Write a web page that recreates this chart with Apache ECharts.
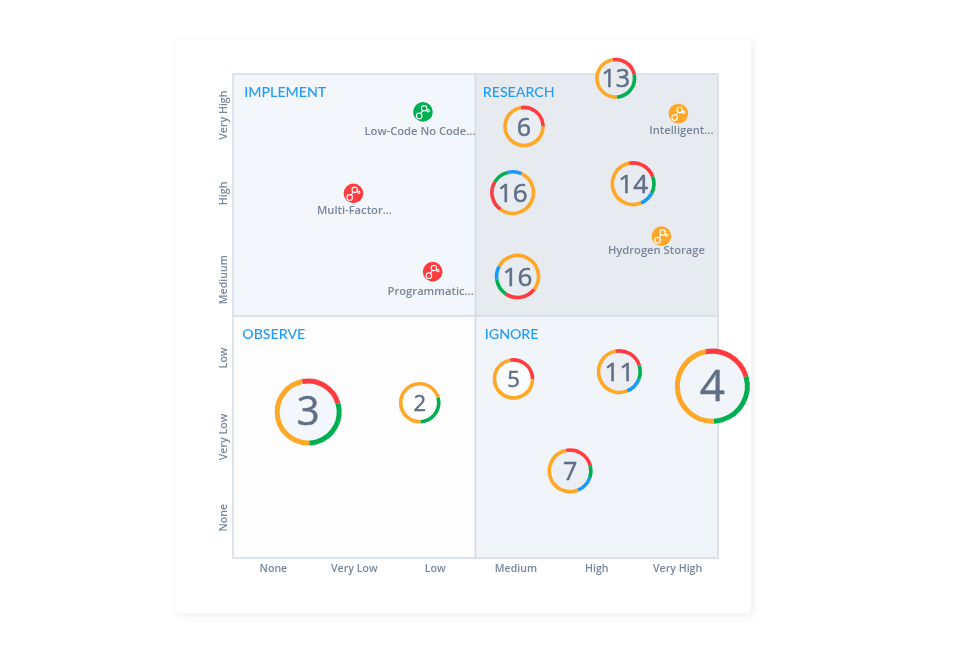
<!DOCTYPE html>
<html>
<head>
<meta charset="utf-8">
<style>
html, body { margin: 0; padding: 0; background: #fff; }
#chart { width: 980px; height: 651px; }
</style>
<script src="https://cdn.jsdelivr.net/npm/echarts@6/dist/echarts.min.js"></script>
</head>
<body>
<div id="chart"></div>
<script>
// axis categories
const xLabels = ['None', 'Very Low', 'Low', 'Medium', 'High', 'Very High']
const yLabels = ['None', 'Very Low', 'Low', 'Mediuum', 'High', 'Very High']
const yTicks = [0.5, 1.5, 2.48, 3.45, 4.52, 5.49]

// quadrants, in axis units
const quadrantNames = ['IMPLEMENT', 'RESEARCH', 'OBSERVE', 'IGNORE']
const quadrantX = [[0, 3], [3, 6], [0, 3], [3, 6]]
const quadrantY = [[3, 6], [3, 6], [0, 3], [0, 3]]

// ring bubbles: position on the 0-6 scale, count, and arc lengths in degrees
const bubbleX = [4.735, 3.6, 3.46, 4.95, 3.52, 3.47, 4.78, 5.93, 4.17, 0.93, 2.31]
const bubbleY = [5.947, 5.35, 4.53, 4.64, 3.49, 2.22, 2.31, 2.13, 1.08, 1.81, 1.925]
const bubbleCount = [13, 6, 16, 14, 16, 5, 11, 4, 7, 3, 2]
const ringStart = [-9, -10, 216, -11, 128, -10, -11, -11, -11, -11, 74]
const redArc = [87, 100, 85, 81, 86, 100, 84, 85, 86, 85, 0]
const greenArc = [99, 0, 45, 47, 47, 0, 39, 104, 35, 104, 104]
const blueArc = [0, 0, 39, 41, 38, 0, 46, 0, 47, 0, 0]
const orangeArc = [174, 260, 191, 191, 189, 260, 191, 171, 192, 171, 256]

// single technologies
const techNames = ['Low-Code No Code...', 'Multi-Factor...', 'Programmatic...', 'Intelligent...', 'Hydrogen Storage']
const techX = [2.35, 1.49, 2.47, 5.51, 5.3]
const techY = [5.53, 4.52, 3.55, 5.51, 3.99]
const techGroup = [1, 0, 0, 3, 3]

// styles
const bubbleRadius = [18.8, 19, 20.8, 20.8, 21, 19, 20.8, 35, 20.8, 31, 19]
const bubbleFont = [25, 25, 26, 26, 26, 22, 26, 44, 25, 40, 22]
const bubbleFill = ['#e8ecf1', '#eaeef2', '#e8ecf1', '#e8ecf1', '#e8ecf1', '#fbfcfd', '#ebeff4', '#f1f5f9', '#ebeff4', '#f3f6fa', '#ffffff']
const techLabelShift = [-3, 1, -2, 3, -5]
const techLabelDrop = [20, 17, 20, 17, 15]
const ringColors = ['#ff3b3f', '#00b050', '#1a9bfc', '#ffa726']
const quadrantColors = ['#f3f6fa', '#e7ebf0', '#fdfdfe', '#f1f5f9']
const quadrantLabelOffset = [[7, 7], [3, 7], [5, 7], [5, 7]]
const textColor = '#5f6f86'
const labelColor = '#76869c'
const fontFamily = '"Open Sans", "Noto Sans", sans-serif'

const toRad = (deg) => ((deg - 90) * Math.PI) / 180

function renderBubble(params, api) {
    const i = params.dataIndex
    const [cx, cy] = api.coord([api.value(0), api.value(1)])
    const r = bubbleRadius[i]
    const children = [{
        type: 'circle',
        shape: { cx, cy, r },
        style: { fill: bubbleFill[i] },
    }]
    let angle = ringStart[i]
    const arcs = [redArc[i], greenArc[i], blueArc[i], orangeArc[i]]
    arcs.forEach((len, k) => {
        if (!len) return
        children.push({
            type: 'arc',
            shape: { cx, cy, r, startAngle: toRad(angle), endAngle: toRad(angle + len), clockwise: true },
            style: { fill: null, stroke: ringColors[k], lineWidth: i === 7 || i === 9 ? 5 : 3.6 },
        })
        angle += len
    })
    children.push({
        type: 'text',
        style: {
            x: cx,
            y: cy + 2,
            text: String(api.value(2)),
            fill: textColor,
            // regular is a bit thin and 600 too heavy, so thicken regular slightly
            stroke: textColor,
            lineWidth: 0.5,
            font: `${bubbleFont[i]}px ${fontFamily}`,
            align: 'center',
            verticalAlign: 'middle',
        },
    })
    return { type: 'group', children }
}

function renderTech(params, api) {
    const i = params.dataIndex
    const [cx, cy] = api.coord([api.value(0), api.value(1)])
    const line = { stroke: '#fff', lineWidth: 1.1 }
    const dot = { fill: 'none', stroke: '#fff', lineWidth: 1.1 }
    return {
        type: 'group',
        children: [
            { type: 'circle', shape: { cx, cy, r: 9.8 }, style: { fill: ringColors[api.value(2)] } },
            { type: 'circle', shape: { cx: cx - 3.8, cy: cy + 4, r: 2.8 }, style: dot },
            { type: 'circle', shape: { cx: cx + 1.2, cy: cy - 3.6, r: 2.7 }, style: dot },
            { type: 'circle', shape: { cx: cx + 5.2, cy: cy - 1.2, r: 1.2 }, style: dot },
            { type: 'line', shape: { x1: cx - 2.2, y1: cy + 1.7, x2: cx - 0.3, y2: cy - 1.3 }, style: line },
            { type: 'line', shape: { x1: cx + 3.6, y1: cy - 2.6, x2: cx + 4.3, y2: cy - 2 }, style: line },
            {
                type: 'text',
                style: {
                    x: cx + techLabelShift[i],
                    y: cy + techLabelDrop[i],
                    text: techNames[i],
                    fill: labelColor,
                    font: `600 11.2px ${fontFamily}`,
                    align: 'center',
                    verticalAlign: 'middle',
                },
            },
        ],
    }
}

const option = {
    animation: false,
    textStyle: { fontFamily },
    graphic: [{
        type: 'rect',
        z: -10,
        shape: { x: 176, y: 40, width: 575, height: 573, r: 3 },
        style: { fill: '#fff', shadowBlur: 8, shadowOffsetX: 2, shadowOffsetY: 2, shadowColor: 'rgba(60,80,110,0.1)' },
    }],
    grid: { left: 233, right: 262, top: 74, bottom: 93 },
    xAxis: [
        {
            type: 'category',
            data: xLabels,
            axisLine: { show: false },
            axisTick: { show: false },
            axisLabel: { color: labelColor, fontSize: 10.6, fontWeight: 600, margin: 5 },
        },
        { type: 'value', min: 0, max: 6, show: false },
    ],
    yAxis: [
        {
            type: 'value',
            min: 0,
            max: 6,
            splitLine: { show: false },
            axisLine: { show: false },
            axisTick: { show: false },
            axisLabel: {
                customValues: yTicks,
                formatter: (v) => yLabels[yTicks.indexOf(v)],
                color: labelColor,
                fontSize: 10.6,
                fontWeight: 600,
                rotate: 90,
                margin: 4,
            },
        },
        { type: 'value', min: 0, max: 6, show: false },
    ],
    series: [
        {
            type: 'custom',
            name: 'Bubbles',
            xAxisIndex: 1,
            yAxisIndex: 1,
            z: 5,
            renderItem: renderBubble,
            data: bubbleX.map((x, i) => [x, bubbleY[i], bubbleCount[i]]),
            markArea: {
                silent: true,
                z: 1,
                data: quadrantNames.map((name, i) => [
                    {
                        name,
                        xAxis: quadrantX[i][0],
                        yAxis: quadrantY[i][1],
                        itemStyle: {
                            color: quadrantColors[i],
                            borderColor: '#d3dce7',
                            borderWidth: 1.5,
                        },
                        label: {
                            position: 'insideTopLeft',
                            offset: quadrantLabelOffset[i],
                            color: '#1e9bff',
                            fontSize: 14.2,
                            fontWeight: 500,
                            fontFamily: 'Lato, "Noto Sans", sans-serif',
                        },
                    },
                    { xAxis: quadrantX[i][1], yAxis: quadrantY[i][0] },
                ]),
            },
        },
        {
            type: 'custom',
            name: 'Technologies',
            xAxisIndex: 1,
            yAxisIndex: 1,
            z: 6,
            renderItem: renderTech,
            data: techX.map((x, i) => [x, techY[i], techGroup[i]]),
        },
    ],
}

const chart = echarts.init(document.getElementById('chart'))
chart.setOption(option)
</script>
</body>
</html>
